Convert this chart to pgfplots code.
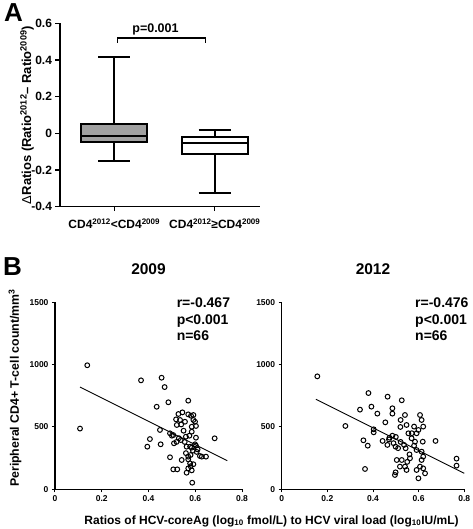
\documentclass[border=0pt]{standalone}
\usepackage{fontspec}
\setmainfont{Liberation Sans}
\usepackage{pgfplots}
\pgfplotsset{compat=1.18}
\definecolor{boxgray}{RGB}{160,160,160}

\pgfplotstableread{
x y
0.138 995
0.107 487
0.368 874
0.456 895
0.469 820
0.435 662
0.485 698
0.570 711
0.545 617
0.528 604
0.592 596
0.582 590
0.570 601
0.518 561
0.535 556
0.556 542
0.599 542
0.592 556
0.521 516
0.603 508
0.585 502
0.540 520
0.449 476
0.492 449
0.506 435
0.585 462
0.406 403
0.452 361
0.395 342
0.509 369
0.538 395
0.560 422
0.603 414
0.683 409
0.563 342
0.585 334
0.603 350
0.599 361
0.578 342
0.555 380
0.580 275
0.620 267
0.646 262
0.628 262
0.492 257
0.542 235
0.570 262
0.606 300
0.578 208
0.592 201
0.570 240
0.506 160
0.523 160
0.570 168
0.580 185
0.563 133
0.585 152
0.587 53
0.530 410
0.575 430
0.590 310
0.560 290
0.520 380
0.610 320
0.550 470
0.500 430
}\dataA

\pgfplotstableread{
x y
0.156 906
0.279 508
0.380 772
0.464 743
0.526 714
0.343 639
0.393 663
0.419 607
0.485 650
0.485 607
0.454 537
0.403 481
0.403 457
0.358 393
0.377 350
0.365 163
0.442 388
0.472 414
0.463 356
0.485 430
0.499 342
0.504 235
0.499 136
0.496 115
0.526 235
0.518 182
0.540 182
0.547 155
0.562 249
0.543 329
0.521 380
0.536 356
0.555 449
0.569 409
0.584 382
0.547 516
0.521 556
0.540 596
0.580 503
0.606 596
0.613 556
0.591 449
0.599 476
0.620 503
0.618 382
0.591 315
0.613 302
0.620 262
0.613 235
0.606 182
0.620 168
0.591 155
0.599 88
0.628 128
0.674 388
0.766 246
0.766 190
0.500 420
0.520 500
0.560 280
0.580 350
0.470 400
0.510 330
0.550 220
0.570 450
0.490 370
}\dataB

\begin{document}
\begin{tikzpicture}
\useasboundingbox (0pt,0pt) rectangle (472pt,529pt);
\node[anchor=north west, inner sep=0pt, font=\bfseries\fontsize{26}{28}\selectfont] at (4pt,526pt) {A};
\node[anchor=north west, inner sep=0pt, font=\bfseries\fontsize{26}{28}\selectfont] at (3pt,272pt) {B};

% Panel A
\begin{axis}[
  at={(60pt,322.3pt)}, anchor=south west,
  scale only axis, width=200pt, height=183.4pt,
  xmin=0.46, xmax=2.45, ymin=-0.4, ymax=0.6,
  axis x line*=bottom, axis y line*=left,
  axis line style={line width=1.4pt, black},
  xtick={1,2},
  xticklabels={CD4\textsuperscript{2012}<CD4\textsuperscript{2009}, CD4\textsuperscript{2012}≥CD4\textsuperscript{2009}},
  ytick={-0.4,-0.2,0,0.2,0.4,0.6},
  yticklabels={-0.4,-0.2,0,0.2,0.4,0.6},
  tick align=outside, major tick length=4.5pt,
  every tick/.style={line width=1.4pt, black},
  yticklabel style={font=\bfseries\fontsize{12}{14}\selectfont},
  xticklabel style={font=\bfseries\fontsize{12}{14}\selectfont, yshift=-4pt},
  ylabel={{\mdseries Δ}Ratios (Ratio\textsuperscript{2012}– Ratio\textsuperscript{2009})},
  ylabel style={at={(axis description cs:-0.165,0.5)}, anchor=center, font=\bfseries\fontsize{13}{15}\selectfont},
  clip=false,
]
% box 1
\addplot[draw=black, line width=1.9pt, fill=boxgray, line join=miter] coordinates {(0.67,-0.049) (1.33,-0.049) (1.33,0.051) (0.67,0.051)} -- cycle;
\addplot[black, line width=1.9pt] coordinates {(0.67,-0.013) (1.33,-0.013)};
\addplot[black, line width=1.9pt] coordinates {(1,0.051) (1,0.418)};
\addplot[black, line width=1.9pt] coordinates {(0.84,0.418) (1.16,0.418)};
\addplot[black, line width=1.9pt] coordinates {(1,-0.049) (1,-0.149)};
\addplot[black, line width=1.9pt] coordinates {(0.84,-0.149) (1.16,-0.149)};
% box 2
\addplot[draw=black, line width=1.9pt, fill=white, line join=miter] coordinates {(1.67,-0.111) (2.33,-0.111) (2.33,-0.018) (1.67,-0.018)} -- cycle;
\addplot[black, line width=1.9pt] coordinates {(1.67,-0.051) (2.33,-0.051)};
\addplot[black, line width=1.9pt] coordinates {(2,-0.018) (2,0.02)};
\addplot[black, line width=1.9pt] coordinates {(1.84,0.02) (2.16,0.02)};
\addplot[black, line width=1.9pt] coordinates {(2,-0.111) (2,-0.324)};
\addplot[black, line width=1.9pt] coordinates {(1.84,-0.324) (2.16,-0.324)};
% bracket
\addplot[line width=1.1pt, black] coordinates {(1.03,0.495) (1.03,0.52) (1.906,0.52) (1.906,0.495)};
\node[anchor=base, inner sep=0pt, font=\bfseries\fontsize{12.5}{14}\selectfont] at (axis cs:1.41,0.549) {p=0.001};
\end{axis}

% Panel B left
\begin{axis}[
  at={(55pt,39.7pt)}, anchor=south west,
  scale only axis, width=187pt, height=187pt,
  xmin=0, xmax=0.8, ymin=0, ymax=1500,
  axis x line*=bottom, axis y line*=left,
  axis line style={line width=1.3pt, black},
  xtick={0,0.2,0.4,0.6,0.8}, xticklabels={0,0.2,0.4,0.6,0.8},
  ytick={0,500,1000,1500}, yticklabels={0,500,1000,1500},
  tick align=outside, major tick length=3pt,
  every tick/.style={line width=1pt, black},
  ticklabel style={font=\bfseries\fontsize{8.5}{10}\selectfont},
  ylabel={Peripheral CD4+ T-cell count/mm\textsuperscript{3}},
  ylabel style={at={(axis description cs:-0.214,0.542)}, anchor=center, font=\bfseries\fontsize{12.3}{14}\selectfont},
  xlabel={Ratios of HCV-coreAg (log\textsubscript{10} fmol/L) to HCV viral load (log\textsubscript{10}IU/mL)},
  xlabel style={at={(axis description cs:1.158,-0.17)}, anchor=center, font=\bfseries\fontsize{12}{14}\selectfont},
  clip=false,
]
\addplot[only marks, mark=o, mark size=2.4pt, black, line width=1pt] table[x=x,y=y] {\dataA};
\addplot[black, line width=0.9pt] coordinates {(0.107,820) (0.737,229)};
\node[anchor=base, font=\bfseries\fontsize{15.5}{17}\selectfont] at (rel axis cs:0.5,1) [yshift=27.3pt] {2009};
\node[anchor=base west, inner sep=0pt, font=\bfseries\fontsize{14}{16}\selectfont] at (axis cs:0.52,1456) {r=-0.467};
\node[anchor=base west, inner sep=0pt, font=\bfseries\fontsize{14}{16}\selectfont] at (axis cs:0.52,1325) {p<0.001};
\node[anchor=base west, inner sep=0pt, font=\bfseries\fontsize{14}{16}\selectfont] at (axis cs:0.52,1194) {n=66};
\end{axis}

% Panel B right
\begin{axis}[
  at={(281.7pt,39.7pt)}, anchor=south west,
  scale only axis, width=182.6pt, height=187pt,
  xmin=0, xmax=0.8, ymin=0, ymax=1500,
  axis x line*=bottom, axis y line*=left,
  axis line style={line width=1.3pt, black},
  xtick={0,0.2,0.4,0.6,0.8}, xticklabels={0,0.2,0.4,0.6,0.8},
  ytick={0,500,1000,1500}, yticklabels={0,500,1000,1500},
  tick align=outside, major tick length=3pt,
  every tick/.style={line width=1pt, black},
  ticklabel style={font=\bfseries\fontsize{8.5}{10}\selectfont},
  clip=false,
]
\addplot[only marks, mark=o, mark size=2.4pt, black, line width=1pt] table[x=x,y=y] {\dataB};
\addplot[black, line width=0.9pt] coordinates {(0.150,722) (0.80,128)};
\node[anchor=base, font=\bfseries\fontsize{15.5}{17}\selectfont] at (rel axis cs:0.5,1) [yshift=27.3pt] {2012};
\node[anchor=base west, inner sep=0pt, font=\bfseries\fontsize{14}{16}\selectfont] at (axis cs:0.584,1456) {r=-0.476};
\node[anchor=base west, inner sep=0pt, font=\bfseries\fontsize{14}{16}\selectfont] at (axis cs:0.584,1325) {p<0.001};
\node[anchor=base west, inner sep=0pt, font=\bfseries\fontsize{14}{16}\selectfont] at (axis cs:0.584,1194) {n=66};
\end{axis}
\end{tikzpicture}
\end{document}
